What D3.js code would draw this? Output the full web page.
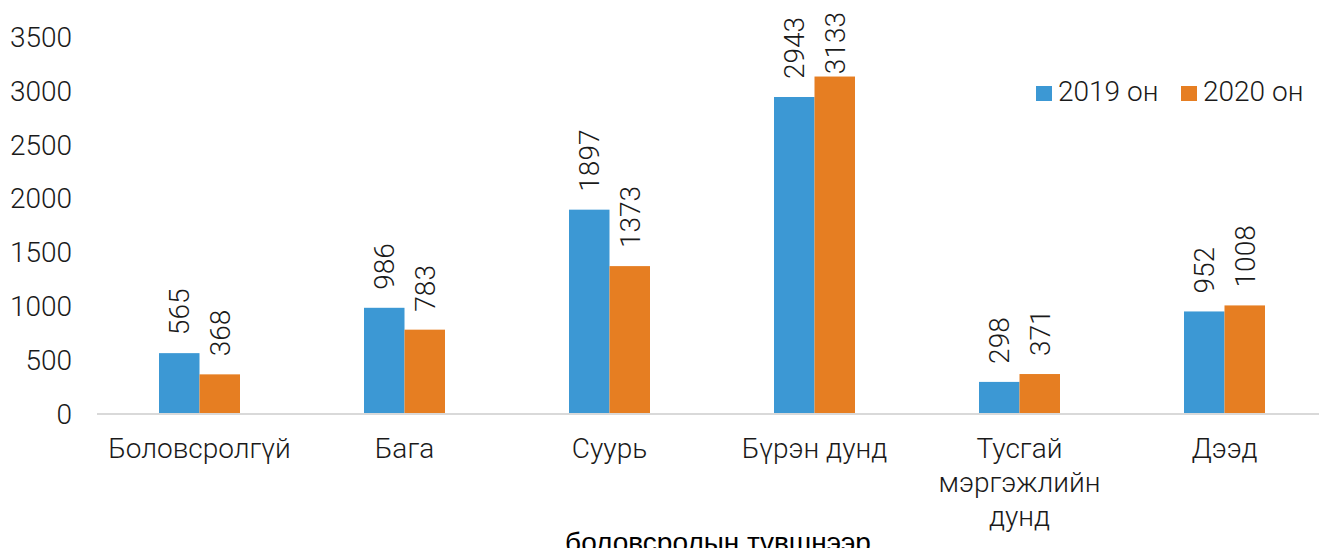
<!DOCTYPE html>
<html>
<head>
<meta charset="utf-8">
<script src="https://cdn.jsdelivr.net/npm/d3@7"></script>
<style>
  body { margin: 0; background: #fff; }
  svg text { font-family: Roboto, "Noto Sans", sans-serif; font-weight: 300; fill: #1a1a1a; }
</style>
</head>
<body>
<script>
const categories = ["Боловсролгүй", "Бага", "Суурь", "Бүрэн дунд", "Тусгай мэргэжлийн дунд", "Дээд"];
const seriesNames = ["2019 он", "2020 он"];
const values2019 = [565, 986, 1897, 2943, 298, 952];
const values2020 = [368, 783, 1373, 3133, 371, 1008];
const yTicks = [0, 500, 1000, 1500, 2000, 2500, 3000, 3500];
const xTitle = "боловсролын түвшнээр";

const colors = ["#3c98d4", "#e67e22"];
const width = 1319, height = 548;
const fontSize = 28;

const rows = categories.map((c, i) => ({ cat: c, vals: [values2019[i], values2020[i]] }));

const svg = d3.select("body").append("svg")
    .attr("width", width)
    .attr("height", height);

//scales
const x0 = d3.scaleBand().domain(categories).range([97, 1327]);
const groupW = 81;
const x1 = d3.scaleBand().domain(seriesNames).range([0, groupW]);
const y = d3.scaleLinear().domain([0, 3500]).range([414, 37]);

//y labels
svg.append("g").selectAll("text")
    .data(yTicks)
    .enter().append("text")
    .attr("x", 72)
    .attr("y", d => y(d))
    .attr("dy", "0.35em")
    .attr("text-anchor", "end")
    .style("font-size", fontSize + "px")
    .text(d => d);

//bars
const groups = svg.selectAll(".grp")
    .data(rows)
    .enter().append("g")
    .attr("class", "grp")
    .attr("transform", d => `translate(${x0(d.cat) + (x0.bandwidth() - groupW) / 2},0)`);

groups.selectAll("rect")
    .data(d => d.vals.map((v, i) => ({ s: seriesNames[i], v: v, i: i })))
    .enter().append("rect")
    .attr("x", d => x1(d.s))
    .attr("y", d => y(d.v))
    .attr("width", x1.bandwidth())
    .attr("height", d => y(0) - y(d.v))
    .attr("fill", d => colors[d.i]);

//value labels (pushed down if they would leave the top)
groups.selectAll(".val")
    .data(d => d.vals.map((v, i) => ({ s: seriesNames[i], v: v, i: i })))
    .enter().append("text")
    .attr("class", "val")
    .attr("dy", "0.35em")
    .style("font-size", fontSize + "px")
    .text(d => d.v)
    .attr("transform", function(d) {
        const len = this.getComputedTextLength();
        const start = Math.max(y(d.v) - 18, 12 + len);
        return `translate(${x1(d.s) + x1.bandwidth() / 2},${start}) rotate(-90)`;
    });

//x axis line
svg.append("line")
    .attr("x1", 97).attr("x2", width)
    .attr("y1", y(0)).attr("y2", y(0))
    .attr("stroke", "#d9d9d9")
    .attr("stroke-width", 2);

//category labels
const catLabels = svg.append("g").selectAll("text")
    .data(categories)
    .enter().append("text")
    .attr("x", d => x0(d) + x0.bandwidth() / 2)
    .attr("y", 458)
    .attr("text-anchor", "middle")
    .style("font-size", fontSize + "px")
    .text(d => d);

catLabels.each(function(d) {
    const t = d3.select(this);
    const words = d.split(" ");
    const cx = t.attr("x");
    t.text(null);
    let line = [];
    let tspan = t.append("tspan").attr("x", cx).attr("dy", 0);
    words.forEach(w => {
        line.push(w);
        tspan.text(line.join(" "));
        if (tspan.node().getComputedTextLength() > 190 && line.length > 1) {
            line.pop();
            tspan.text(line.join(" "));
            line = [w];
            tspan = t.append("tspan").attr("x", cx).attr("dy", 34).text(w);
        }
    });
});

//axis title
svg.append("text")
    .attr("x", 718)
    .attr("y", 552)
    .attr("text-anchor", "middle")
    .style("font-family", "'Liberation Sans', Arial, sans-serif")
    .style("font-weight", 400)
    .style("font-size", "28px")
    .style("fill", "#000")
    .text(xTitle);

//legend
const legendX = [1036, 1181];
const legend = svg.selectAll(".leg")
    .data(seriesNames)
    .enter().append("g")
    .attr("class", "leg")
    .attr("transform", (d, i) => `translate(${legendX[i]},86)`);

legend.append("rect")
    .attr("width", 16).attr("height", 15)
    .attr("fill", (d, i) => colors[i]);

legend.append("text")
    .attr("x", 22)
    .attr("y", 15)
    .style("font-size", fontSize + "px")
    .text(d => d);
</script>
</body>
</html>
